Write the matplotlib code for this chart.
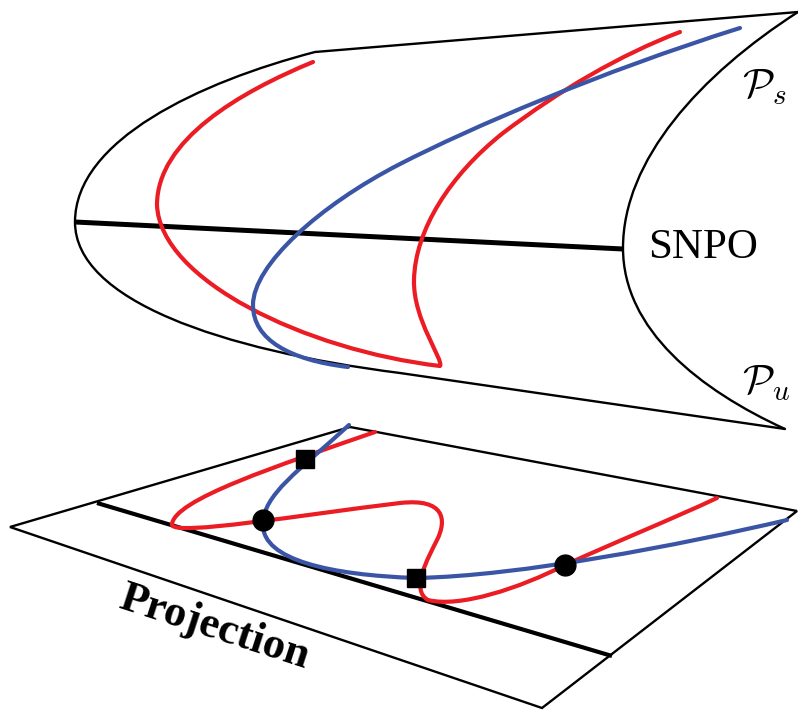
import matplotlib.pyplot as plt
from matplotlib.path import Path
from matplotlib.patches import PathPatch

plt.rcParams['mathtext.fontset'] = 'cm'

# Everything is laid out in pixel units, y pointing down.
# Curves are cubic Bezier chains: start point, then (ctrl1, ctrl2, end) triples.

# tube of the periodic orbit family
cone_top = [(315, 52), (798, 12)]
cone_nose = [(315, 52), (200, 82), (75, 140), (75, 222),
             (75, 300), (220, 350), (400, 373)]
cone_bottom = [(400, 373), (785, 429)]
cone_rim = [(798, 12), (700, 75), (623, 160), (623, 248),
            (623, 330), (700, 390), (785, 429)]
snpo_line = [(75, 222), (623, 249)]

red_upper = [(313, 62), (240, 92), (157, 140), (157, 205),
             (160, 280), (305, 350), (440, 366),
             (444, 360), (413, 320), (414, 280),
             (415, 230), (450, 175), (503, 133),
             (560, 90), (620, 55), (680, 32)]
blue_upper = [(348, 367), (290, 360), (253, 340), (253, 305),
              (253, 265), (320, 205), (400, 164),
              (470, 128), (600, 72), (740, 28)]

# projection plane
plane_edges = [(350, 427), (10, 527), (542, 708), (797, 511), (350, 427)]
plane_axis = [(97, 503), (612, 656)]

red_lower = [(375, 432), (280, 465), (172, 500), (172, 525),
             (176, 536), (300, 515), (400, 503),
             (445, 498), (447, 520), (437, 540),
             (428, 558), (410, 590), (428, 600),
             (460, 608), (520, 588), (565, 565),
             (620, 540), (670, 520), (717, 498)]
blue_lower = [(349, 425), (300, 470), (262, 495), (263, 525),
              (263, 560), (330, 575), (416, 578),
              (520, 576), (680, 545), (787, 520)]

circle_pts = [(263, 520), (565, 565)]
square_pts = [(305, 459), (416, 578)]

RED = '#ec1c24'
BLUE = '#3a55a5'


def bezier(ax, pts, color, lw, z=2):
    codes = [Path.MOVETO] + [Path.CURVE4] * (len(pts) - 1)
    ax.add_patch(PathPatch(Path(pts, codes), fill=False, edgecolor=color,
                           lw=lw, capstyle='round', joinstyle='round', zorder=z))


def polyline(ax, pts, color='black', lw=1.7, z=1):
    xs, ys = zip(*pts)
    ax.plot(xs, ys, color=color, lw=lw, solid_capstyle='butt',
            solid_joinstyle='miter', zorder=z)


fig = plt.figure(figsize=(7.98, 7.10), dpi=100)
ax = fig.add_axes([0, 0, 1, 1])
ax.set_xlim(0, 798)
ax.set_ylim(710, 0)
ax.axis('off')

# black frame
polyline(ax, cone_top)
polyline(ax, cone_bottom)
bezier(ax, cone_nose, 'black', 1.7, z=1)
bezier(ax, cone_rim, 'black', 1.7, z=1)
polyline(ax, snpo_line, lw=3.6)
polyline(ax, plane_edges)
polyline(ax, plane_axis, lw=3.0)

# branches
bezier(ax, red_upper, RED, 3.0)
bezier(ax, blue_upper, BLUE, 3.0, z=3)
bezier(ax, red_lower, RED, 3.0)
bezier(ax, blue_lower, BLUE, 3.0, z=3)

cx, cy = zip(*circle_pts)
ax.plot(cx, cy, 'o', color='black', ms=15, zorder=5)
sx, sy = zip(*square_pts)
ax.plot(sx, sy, 's', color='black', ms=13, zorder=5)

# labels
ax.text(648, 248, 'SNPO', family='Liberation Serif', fontsize=31,
        ha='left', va='center')
ax.text(742, 86, r'$\mathcal{P}_s$', fontsize=30, ha='left', va='center')
ax.text(742, 382, r'$\mathcal{P}_u$', fontsize=30, ha='left', va='center')
ax.text(211, 638, 'Projection', family='Liberation Serif', fontweight='bold',
        fontsize=32, rotation=-18, rotation_mode='anchor',
        ha='center', va='baseline')

fig.savefig('out.png', dpi=100)
